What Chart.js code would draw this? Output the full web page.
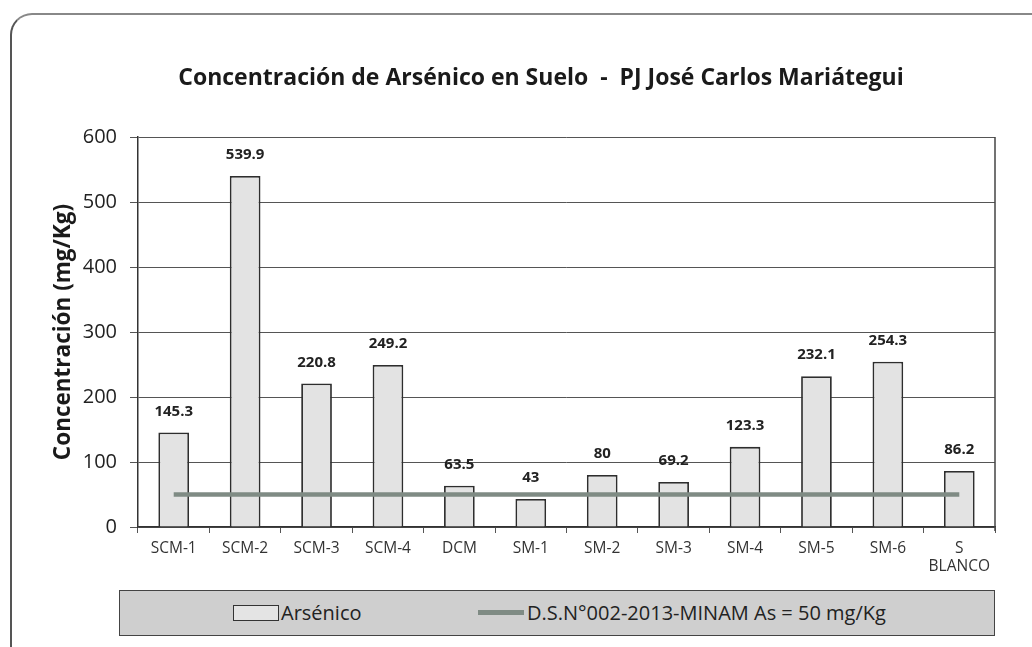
<!DOCTYPE html>
<html>
<head>
<meta charset="utf-8">
<script src="https://cdn.jsdelivr.net/npm/chart.js@4.4.1/dist/chart.umd.min.js"></script>
<style>
  html, body { margin: 0; padding: 0; background: #fff; }
  #wrap { position: relative; width: 1032px; height: 647px; overflow: hidden; background: #fff; font-family: "Open Sans", Lato, sans-serif; }
  #frame { position: absolute; left: 10px; top: 13px; width: 1100px; height: 700px; border-left: 2px solid #555; border-top: 2px solid #888; border-top-left-radius: 22px; box-sizing: border-box; }
  #chart { position: absolute; left: 0; top: 0; }
  #legend { position: absolute; left: 119px; top: 590px; width: 876px; height: 46px; background: #cfcfcf; border: 1.5px solid #444; box-sizing: border-box; }
  .item { position: absolute; top: 0; height: 43px; display: flex; align-items: center; font-size: 20px; color: #222; white-space: nowrap; }
  .swatch { width: 46px; height: 16px; background: #e4e4e4; border: 1.5px solid #333; box-sizing: border-box; margin-right: 2px; }
  .lineSw { width: 46px; height: 5px; background: #7f8b84; margin-right: 3px; }
</style>
</head>
<body>
<div id="wrap">
  <div id="frame"></div>
  <canvas id="chart" width="1032" height="647"></canvas>
  <div id="legend">
    <div class="item" style="left:113px;"><span class="swatch"></span><span id="lg1"></span></div>
    <div class="item" style="left:358px;"><span class="lineSw"></span><span id="lg2"></span></div>
  </div>
</div>
<script>
const categories = ["SCM-1", "SCM-2", "SCM-3", "SCM-4", "DCM", "SM-1", "SM-2", "SM-3", "SM-4", "SM-5", "SM-6", ["S", "BLANCO"]];
const arsenico = [145.3, 539.9, 220.8, 249.2, 63.5, 43, 80, 69.2, 123.3, 232.1, 254.3, 86.2];
const limite = [50, 50, 50, 50, 50, 50, 50, 50, 50, 50, 50, 50];
const yTicks = [0, 100, 200, 300, 400, 500, 600];
const seriesNames = ["Arsénico", "D.S.N°002-2013-MINAM As = 50 mg/Kg"];
const titleText = "Concentración de Arsénico en Suelo  -  PJ José Carlos Mariátegui";
const yTitle = "Concentración (mg/Kg)";

document.getElementById('lg1').textContent = seriesNames[0];
document.getElementById('lg2').textContent = seriesNames[1];

const FONT = '"Open Sans", Lato, sans-serif';

const chartTitle = {
  id: 'chartTitle',
  afterDraw(chart) {
    const ctx = chart.ctx;
    ctx.save();
    ctx.font = 'bold 23px ' + FONT;
    ctx.fillStyle = '#1a1a1a';
    ctx.textAlign = 'center';
    ctx.textBaseline = 'alphabetic';
    ctx.fillText(titleText, 541, 85);
    ctx.restore();
  }
};

const barLabels = {
  id: 'barLabels',
  afterDatasetsDraw(chart) {
    const ctx = chart.ctx;
    const meta = chart.getDatasetMeta(0);
    ctx.save();
    ctx.font = 'bold 15px ' + FONT;
    ctx.fillStyle = '#222';
    ctx.textAlign = 'center';
    ctx.textBaseline = 'middle';
    meta.data.forEach((bar, i) => {
      ctx.fillText(String(arsenico[i]), bar.x, bar.y - 21);
    });
    ctx.restore();
  }
};

const rightBorder = {
  id: 'rightBorder',
  afterDraw(chart) {
    const a = chart.chartArea;
    const ctx = chart.ctx;
    ctx.save();
    ctx.strokeStyle = '#444';
    ctx.lineWidth = 1.5;
    ctx.beginPath();
    ctx.moveTo(a.right, a.top);
    ctx.lineTo(a.right, a.bottom + 4);
    ctx.stroke();
    ctx.restore();
  }
};

new Chart(document.getElementById('chart'), {
  type: 'bar',
  data: {
    labels: categories,
    datasets: [
      {
        label: seriesNames[0],
        data: arsenico,
        backgroundColor: '#e3e3e3',
        borderColor: '#2e2e2e',
        borderWidth: 1.8,
        barPercentage: 0.86,
        categoryPercentage: 0.5,
        order: 2
      },
      {
        type: 'line',
        label: seriesNames[1],
        data: limite,
        borderColor: '#7f8b84',
        borderWidth: 4.5,
        pointRadius: 0,
        fill: false,
        tension: 0,
        order: 1
      }
    ]
  },
  options: {
    responsive: false,
    animation: false,
    devicePixelRatio: 1,
    layout: { padding: { left: 50, right: 37, top: 137, bottom: 0 } },
    plugins: {
      legend: { display: false },
      tooltip: { enabled: false },
      title: { display: false }
    },
    scales: {
      x: {
        offset: true,
        grid: { drawOnChartArea: false, drawTicks: true, tickLength: 6, color: '#555', offset: true },
        border: { display: true, color: '#333', width: 1.5 },
        ticks: { color: '#333', font: { family: FONT, size: 15.5 }, padding: 6, maxRotation: 0, autoSkip: false },
        afterFit(scale) { scale.height = 120; }
      },
      y: {
        min: 0,
        max: 600,
        afterBuildTicks(scale) { scale.ticks = yTicks.map(v => ({ value: v })); },
        grid: { color: '#555', lineWidth: 1, drawTicks: true, tickLength: 8 },
        border: { display: true, color: '#333', width: 1.5 },
        ticks: { color: '#222', font: { family: FONT, size: 20 }, padding: 13 },
        title: { display: true, text: yTitle, color: '#1a1a1a', font: { family: FONT, size: 22.5, weight: 'bold' }, padding: { top: 0, bottom: 0 } },
        afterFit(scale) { scale.width = 88; }
      }
    }
  },
  plugins: [chartTitle, barLabels, rightBorder]
});
</script>
</body>
</html>
